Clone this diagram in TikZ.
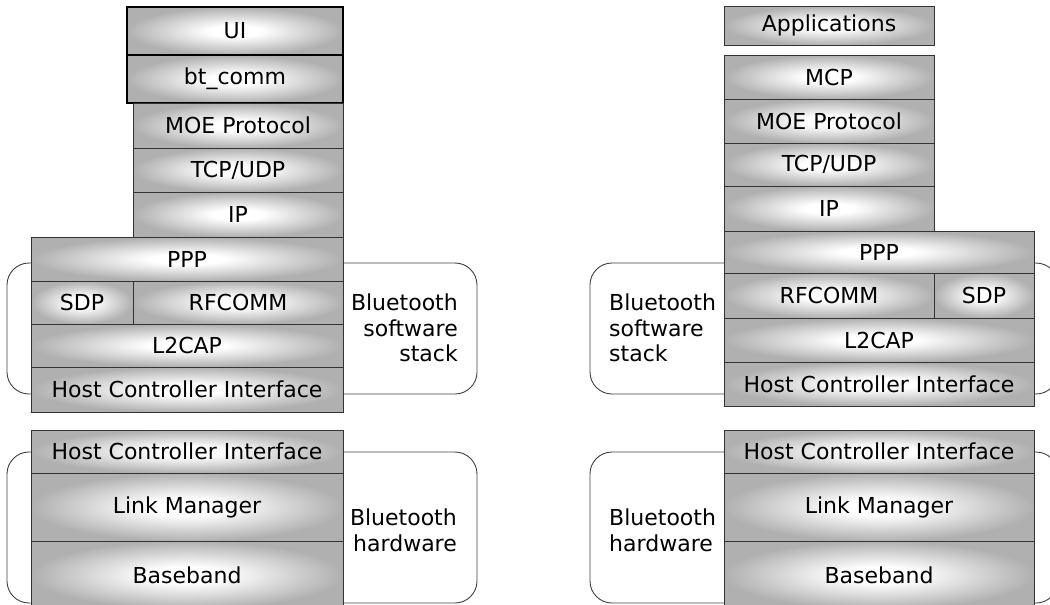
\documentclass[tikz,border=0pt]{standalone}
\usepackage{fontspec}
\setmainfont{DejaVu Sans}
% grey rim fading to a white core, stretched to each layer box
\pgfdeclareradialshading{layershade}{\pgfpoint{0bp}{0bp}}{%
  color(0bp)=(white); color(6bp)=(white); color(25bp)=(black!31); color(50bp)=(black!31)}
\begin{document}
\begin{tikzpicture}[x=1pt,y=-1pt,
  txt/.style={font=\fontsize{22}{25.5}\selectfont, text=black},
  layer/.style={txt, draw=black!80, line width=1pt, shading=layershade,
    inner sep=0pt, outer sep=0pt, minimum width=#1},
  layer/.default=210pt,
  applayer/.style={layer=#1, draw=black, line width=1.8pt},
  applayer/.default=216pt,
  group/.style={draw=black!75, line width=0.9pt, rounded corners=22pt},
  grouplabel/.style={txt, inner sep=0pt}]
\useasboundingbox (0,0) rectangle (1050,605);
\clip (0,0) rectangle (1050,605);

% ---------------- left stack ----------------
\draw[group] (7,263) rectangle (477,394);
\draw[group] (7,452) rectangle (477,603);

\node[applayer, minimum height=48pt] (lui) at (235,31) {UI};
\node[applayer, minimum height=48pt] (lbt) at (235,79) {bt\_comm};
\node[layer, minimum height=45pt] (lmoe) at (238,125.5) {MOE Protocol};
\node[layer, minimum height=44pt] (ltcp) at (238,170) {TCP/UDP};
\node[layer, minimum height=45pt] (lip) at (238,214.5) {IP};
\node[layer=312pt, minimum height=44pt] (lppp) at (187,259) {PPP};
\node[layer=102pt, minimum height=43pt] (lsdp) at (82,302.5) {SDP};
\node[layer, minimum height=43pt] (lrf) at (238,302.5) {RFCOMM};
\node[layer=312pt, minimum height=43pt] (ll2) at (187,345.5) {L2CAP};
\node[layer=312pt, minimum height=45pt] (lhci) at (187,389.5) {Host Controller Interface};
\node[grouplabel, anchor=north east, align=right] (lsw) at (458,294) {Bluetooth\\software\\stack};

\node[layer=312pt, minimum height=43pt] (lhhci) at (187,451.5) {Host Controller Interface};
\node[layer=312pt, minimum height=68pt] (llm) at (187,507) {Link Manager};
\node[layer=312pt, minimum height=68pt] (lbb) at (187,575) {Baseband};
\node[grouplabel, anchor=north east, align=right] (lhw) at (457,509) {Bluetooth\\hardware};

% ---------------- right stack ----------------
\draw[group] (590,263) rectangle (1058,394);
\draw[group] (590,452) rectangle (1058,603);

\node[layer, minimum height=39pt] (rapp) at (829,25.5) {Applications};
\node[layer, minimum height=44pt] (rmcp) at (829,77) {MCP};
\node[layer, minimum height=44pt] (rmoe) at (829,121) {MOE Protocol};
\node[layer, minimum height=43pt] (rtcp) at (829,164.5) {TCP/UDP};
\node[layer, minimum height=45pt] (rip) at (829,208.5) {IP};
\node[layer=310pt, minimum height=42pt] (rppp) at (879,252) {PPP};
\node[layer, minimum height=45pt] (rrf) at (829,295.5) {RFCOMM};
\node[layer=100pt, minimum height=45pt] (rsdp) at (984,295.5) {SDP};
\node[layer=310pt, minimum height=44pt] (rl2) at (879,340) {L2CAP};
\node[layer=310pt, minimum height=44pt] (rhci) at (879,384) {Host Controller Interface};
\node[grouplabel, anchor=north west, align=left] (rsw) at (609,294) {Bluetooth\\software\\stack};

\node[layer=310pt, minimum height=43pt] (rhhci) at (879,451.5) {Host Controller Interface};
\node[layer=310pt, minimum height=68pt] (rlm) at (879,507) {Link Manager};
\node[layer=310pt, minimum height=68pt] (rbb) at (879,575) {Baseband};
\node[grouplabel, anchor=north west, align=left] (rhw) at (609,509) {Bluetooth\\hardware};
\end{tikzpicture}
\end{document}
